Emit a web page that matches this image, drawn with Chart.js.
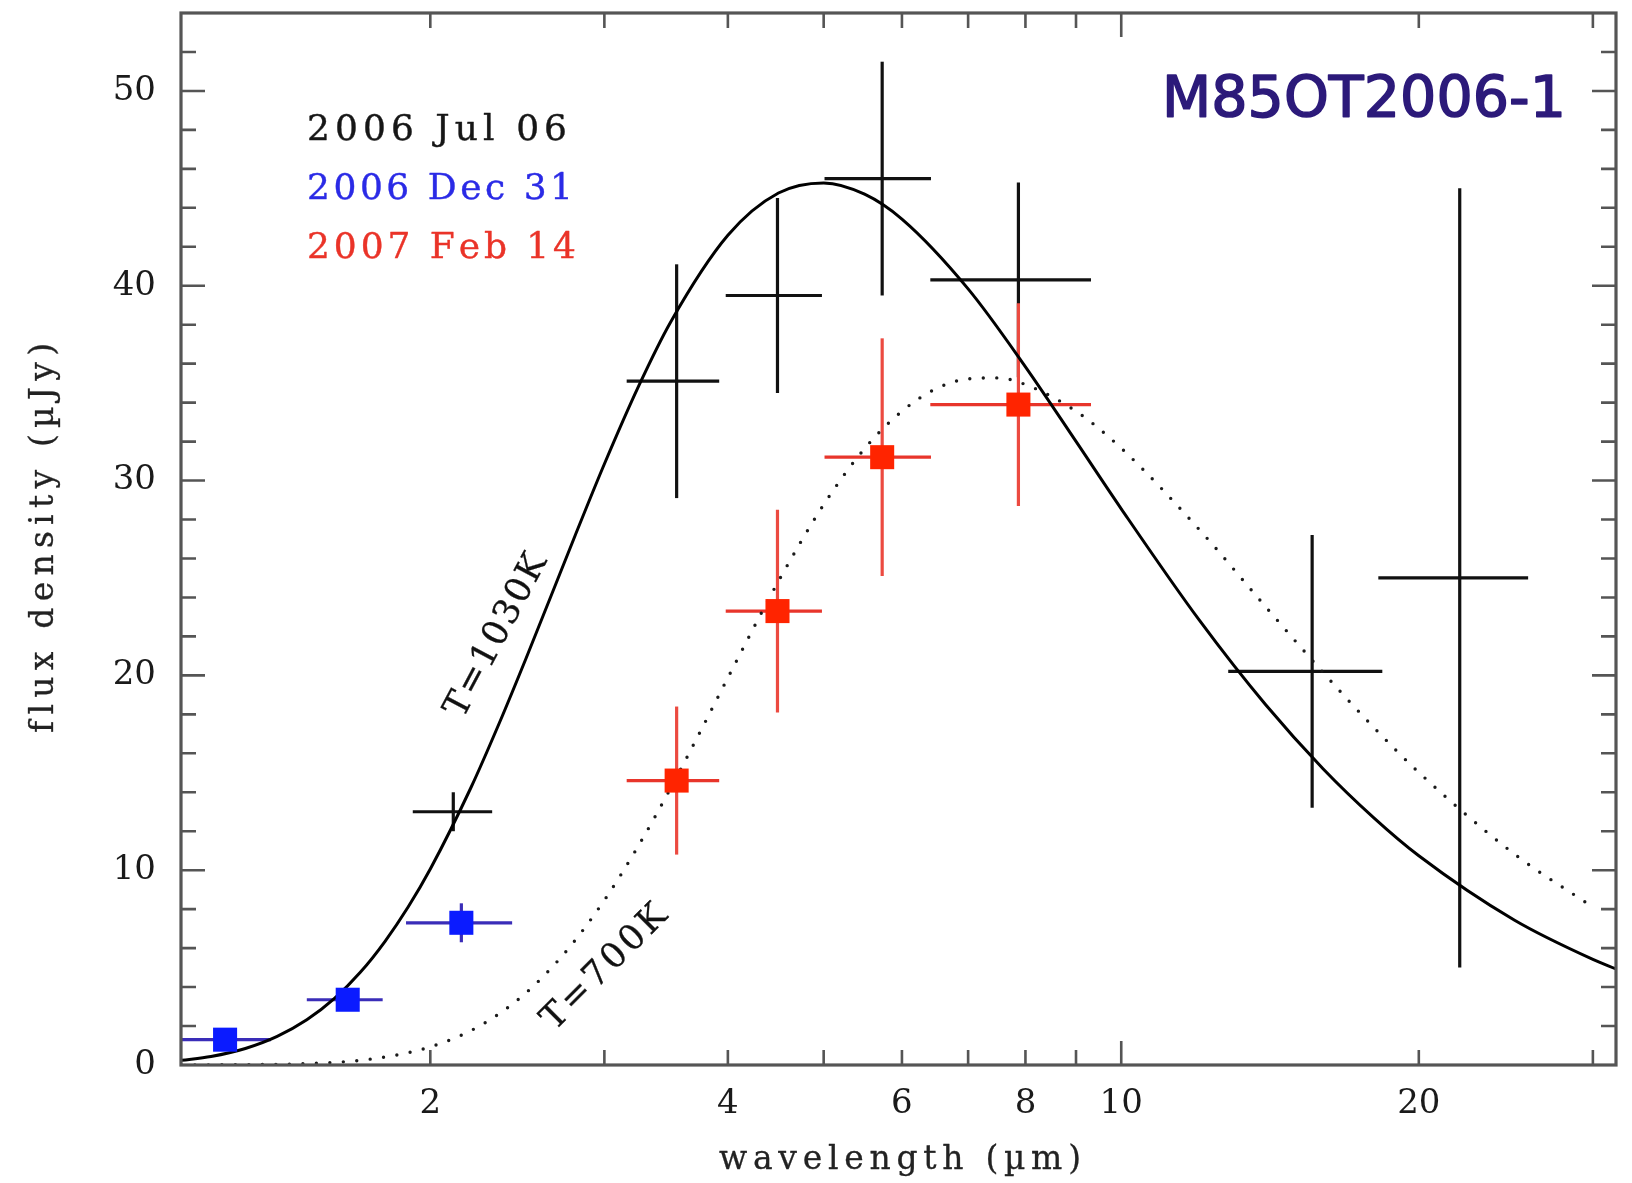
<!DOCTYPE html>
<html><head><meta charset="utf-8">
<script src="https://cdn.jsdelivr.net/npm/chart.js@4.4.1/dist/chart.umd.min.js"></script>
<style>html,body{margin:0;padding:0;background:#fff;}#wrap{width:1632px;height:1183px;}</style>
</head><body><div id="wrap"><canvas id="c" width="1632" height="1183"></canvas></div>
<script>
// ---------- data ----------
const xTickValues = [2, 3, 4, 5, 6, 7, 8, 9, 10, 20, 30];
const xTickLabeled = [2, 4, 6, 8, 10, 20];
const yTickValues = [0, 10, 20, 30, 40, 50];
const legendLabels = ['2006 Jul 06', '2006 Dec 31', '2007 Feb 14'];
const titleText = 'M85OT2006-1';
const xAxisTitle = 'wavelength (µm)';
const yAxisTitle = 'flux density (µJy)';
const curveLabels = ['T=1030K', 'T=700K'];

// 2006 Jul 06 (black crosses)
const julWave = [2.11, 3.55, 4.49, 5.73, 7.87, 15.6, 22.0];
const julWaveLo = [1.92, 3.16, 3.98, 5.01, 6.41, 12.83, 18.2];
const julWaveHi = [2.31, 3.92, 4.98, 6.42, 9.32, 18.37, 25.8];
const julFlux = [13.0, 35.1, 39.5, 45.5, 40.3, 20.2, 25.0];
const julErr = [1.0, 6.0, 5.0, 6.0, 5.0, 7.0, 20.0];

// 2006 Dec 31 (blue squares)
const decWave = [1.24, 1.65, 2.15];
const decWaveLo = [1.12, 1.50, 1.89];
const decWaveHi = [1.38, 1.79, 2.42];
const decFlux = [1.3, 3.35, 7.3];
const decErr = [0.3, 0.4, 1.0];

// 2007 Feb 14 (red squares)
const febWave = [3.55, 4.49, 5.73, 7.87];
const febWaveLo = [3.16, 3.98, 5.01, 6.41];
const febWaveHi = [3.92, 4.98, 6.42, 9.32];
const febFlux = [14.6, 23.3, 31.2, 33.9];
const febErr = [3.8, 5.2, 6.1, 5.2];

// blackbody curves
const hotWave = [1.12,1.2,1.3,1.4,1.5,1.6,1.7,1.8,1.9,2.0,2.2,2.35,2.5,2.65,2.8,3.0,3.25,3.5,4.0,4.5,5.0,5.5,6.0,7.0,8.0,9.0,10,12,14,16,18,20,25,30,31.66];
const hotFlux = [0.24,0.44,0.85,1.47,2.32,3.42,4.77,6.35,8.12,10.06,14.27,17.58,20.88,24.09,27.13,30.85,34.86,38.13,42.59,44.76,45.28,44.70,43.42,39.84,35.84,32.01,28.55,22.82,18.49,15.21,12.70,10.74,7.43,5.42,4.93];
const coolWave = [1.12,1.5,1.75,2.0,2.25,2.5,2.75,3.0,3.25,3.5,3.75,4.0,4.5,5.0,5.5,6.0,6.5,7.0,7.5,8.0,9.0,10,12,14,16,18,20,25,29.8];
const coolFlux = [0.0,0.07,0.32,0.93,2.04,3.71,5.89,8.46,11.28,14.20,17.10,19.88,24.83,28.76,31.64,33.56,34.72,35.22,35.27,34.93,33.56,31.66,27.47,23.52,20.15,17.34,15.02,10.82,8.2];

const pts = (xs, ys) => xs.map((x, i) => ({x: x, y: ys[i]}));

// ---------- helpers ----------
function drawSpaced(ctx, text, cx, cy, target, angle, color, font, stroke) {
  ctx.save();
  ctx.font = font; ctx.fillStyle = color; ctx.strokeStyle = color;
  ctx.textBaseline = 'middle'; ctx.textAlign = 'left';
  const chars = Array.from(text);
  const w = chars.map(c => ctx.measureText(c).width);
  const sum = w.reduce((a, b) => a + b, 0);
  const gap = chars.length > 1 ? (target - sum) / (chars.length - 1) : 0;
  ctx.translate(cx, cy); ctx.rotate(angle);
  let x = -target / 2;
  chars.forEach((c, i) => {
    if (stroke) { ctx.lineWidth = stroke; ctx.lineJoin = 'round'; ctx.strokeText(c, x, 0); }
    ctx.fillText(c, x, 0);
    x += w[i] + gap;
  });
  ctx.restore();
}

const errorSets = [
  {wave: julWave, lo: julWaveLo, hi: julWaveHi, flux: julFlux, err: julErr, h: '#111111', v: '#111111'},
  {wave: decWave, lo: decWaveLo, hi: decWaveHi, flux: decFlux, err: decErr, h: '#3a2db8', v: '#3a2db8'},
  {wave: febWave, lo: febWaveLo, hi: febWaveHi, flux: febFlux, err: febErr, h: '#e8352b', v: '#ec4a40'}
];

const errorBarPlugin = {
  id: 'errbars',
  beforeDatasetsDraw(chart) {
    const {ctx, chartArea: a, scales: {x, y}} = chart;
    ctx.save();
    ctx.beginPath(); ctx.rect(a.left, a.top, a.right - a.left, a.bottom - a.top); ctx.clip();
    ctx.lineWidth = 3.2; ctx.lineCap = 'butt';
    errorSets.forEach(s => {
      s.wave.forEach((wv, i) => {
        const px = x.getPixelForValue(wv), py = y.getPixelForValue(s.flux[i]);
        ctx.strokeStyle = s.h;
        ctx.beginPath();
        ctx.moveTo(x.getPixelForValue(s.lo[i]), py);
        ctx.lineTo(x.getPixelForValue(s.hi[i]), py);
        ctx.stroke();
        ctx.strokeStyle = s.v;
        ctx.beginPath();
        ctx.moveTo(px, y.getPixelForValue(s.flux[i] - s.err[i]));
        ctx.lineTo(px, y.getPixelForValue(s.flux[i] + s.err[i]));
        ctx.stroke();
      });
    });
    ctx.restore();
  }
};

const framePlugin = {
  id: 'frame',
  afterDatasetsDraw(chart) {
    const {ctx, chartArea: a, scales: {x, y}} = chart;
    ctx.save();
    ctx.strokeStyle = '#555555'; ctx.lineWidth = 3.2; ctx.lineCap = 'square';
    ctx.strokeRect(a.left, a.top, a.right - a.left, a.bottom - a.top);
    ctx.lineWidth = 2.6; ctx.lineCap = 'butt';
    for (let v = 2; v <= 52; v += 2) {
      const py = y.getPixelForValue(v);
      const len = v % 10 === 0 ? 24 : 15;
      ctx.beginPath();
      ctx.moveTo(a.left, py); ctx.lineTo(a.left + len, py);
      ctx.moveTo(a.right, py); ctx.lineTo(a.right - len, py);
      ctx.stroke();
    }
    xTickValues.forEach(v => {
      const px = x.getPixelForValue(v);
      const len = v === 10 ? 24 : 15;
      ctx.beginPath();
      ctx.moveTo(px, a.bottom); ctx.lineTo(px, a.bottom - len);
      ctx.moveTo(px, a.top); ctx.lineTo(px, a.top + len);
      ctx.stroke();
    });
    ctx.restore();
  }
};

const textPlugin = {
  id: 'texts',
  afterDraw(chart) {
    const ctx = chart.ctx;
    const serif = 'DejaVu Serif';
    // legend
    const legColors = ['#161616', '#2a2ae6', '#ea3328'];
    const legTargets = [260, 266, 269];
    const legY = [131, 190, 249];
    legendLabels.forEach((t, i) => {
      drawSpaced(ctx, t, 307 + legTargets[i] / 2, legY[i], legTargets[i], 0, legColors[i], '36px "' + serif + '"', 0.4);
    });
    // object name
    drawSpaced(ctx, titleText, 1364, 102, 404, 0, '#2c1a7a', '57px "DejaVu Sans"', 1.6);
    // curve labels
    drawSpaced(ctx, curveLabels[0], 497, 636, 180, -62 * Math.PI / 180, '#111', '35px "' + serif + '"', 0.3);
    drawSpaced(ctx, curveLabels[1], 605, 968, 162, -45 * Math.PI / 180, '#111', '35px "' + serif + '"', 0.3);
    // axis titles
    drawSpaced(ctx, xAxisTitle, 900, 1160, 362, 0, '#222', '33px "' + serif + '"', 0.3);
    drawSpaced(ctx, yAxisTitle, 44, 538, 390, -Math.PI / 2, '#222', '33px "' + serif + '"', 0.3);
  }
};

new Chart(document.getElementById('c'), {
  type: 'scatter',
  data: {
    datasets: [
      {label: curveLabels[0], data: pts(hotWave, hotFlux), showLine: true, borderColor: '#000', borderWidth: 3,
       pointRadius: 0, cubicInterpolationMode: 'monotone', order: 3},
      {label: curveLabels[1], data: pts(coolWave, coolFlux), showLine: true, borderColor: '#1a1a1a', borderWidth: 3.4,
       borderDash: [0, 13.5], borderCapStyle: 'round', pointRadius: 0, cubicInterpolationMode: 'monotone', order: 4},
      {label: legendLabels[0], data: pts(julWave, julFlux), pointRadius: 0, order: 2},
      {label: legendLabels[1], data: pts(decWave, decFlux), pointStyle: 'rect', pointRadius: 17,
       backgroundColor: '#0b1bff', borderColor: '#0b1bff', borderWidth: 0, order: 1},
      {label: legendLabels[2], data: pts(febWave, febFlux), pointStyle: 'rect', pointRadius: 17,
       backgroundColor: '#ff2400', borderColor: '#ff2400', borderWidth: 0, order: 0}
    ]
  },
  options: {
    responsive: false, animation: false, devicePixelRatio: 1,
    layout: {autoPadding: false, padding: {top: 13, right: 16, left: 0, bottom: 0}},
    plugins: {legend: {display: false}, tooltip: {enabled: false}},
    scales: {
      x: {
        type: 'logarithmic', min: 1.119, max: 31.66, position: 'bottom',
        grid: {display: false, drawTicks: false, tickLength: 0}, border: {display: false},
        ticks: {autoSkip: false, maxRotation: 0, minRotation: 0, padding: 19,
                font: {family: 'DejaVu Serif', size: 34}, color: '#1a1a1a',
                callback: (v) => xTickLabeled.includes(v) ? String(v) : ''},
        afterBuildTicks: (s) => { s.ticks = xTickValues.map(v => ({value: v})); },
        afterFit: (s) => { s.height = 118; s.paddingLeft = 0; s.paddingRight = 0; s.paddingTop = 0; s.paddingBottom = 0; }
      },
      y: {
        type: 'linear', min: 0, max: 54, position: 'left',
        grid: {display: false, drawTicks: false, tickLength: 0}, border: {display: false},
        ticks: {padding: 25, font: {family: 'DejaVu Serif', size: 34}, color: '#1a1a1a'},
        afterBuildTicks: (s) => { s.ticks = yTickValues.map(v => ({value: v})); },
        afterFit: (s) => { s.width = 181; s.paddingLeft = 0; s.paddingRight = 0; s.paddingTop = 0; s.paddingBottom = 0; }
      }
    }
  },
  plugins: [errorBarPlugin, framePlugin, textPlugin]
});
</script></body></html>
